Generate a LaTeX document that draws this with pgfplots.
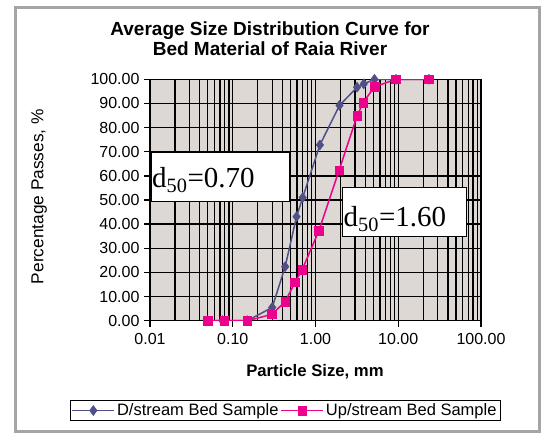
\documentclass[border=0pt]{standalone}
\usepackage{fontspec}
\setmainfont{Liberation Sans}
\newfontfamily\timesf{Liberation Serif}
\usepackage{pgfplots}
\pgfplotsset{compat=1.18}
\definecolor{dcol}{RGB}{80,80,135}
\definecolor{ucol}{RGB}{236,0,140}
\definecolor{bgc}{RGB}{221,216,212}
\definecolor{framec}{RGB}{165,165,165}

\begin{document}
\begin{tikzpicture}[x=1pt,y=1pt]
\useasboundingbox (0,0) rectangle (543,434);
\fill[white] (0,0) rectangle (543,434);
\draw[framec, line width=3pt] (15.5,2.5) rectangle (539.5,426.5);
\node[align=center, font=\fontsize{19}{20}\selectfont\bfseries] at (270,395.25) {Average Size Distribution Curve for\\Bed Material of Raia River};

\begin{axis}[
  at={(150pt,113.3pt)}, anchor=south west, scale only axis,
  width=331pt, height=241.4pt,
  xmode=log, xmin=0.01, xmax=100, ymin=0, ymax=100,
  axis background/.style={fill=bgc},
  xtick={0.01,0.1,1,10,100},
  xticklabels={0.01,0.10,1.00,10.00,100.00},
  minor xtick={0.02,0.03,0.04,0.05,0.06,0.07,0.08,0.09,0.2,0.3,0.4,0.5,0.6,0.7,0.8,0.9,2,3,4,5,6,7,8,9,20,30,40,50,60,70,80,90},
  ytick={0,10,20,30,40,50,60,70,80,90,100},
  yticklabels={0.00,10.00,20.00,30.00,40.00,50.00,60.00,70.00,80.00,90.00,100.00},
  grid=both,
  major grid style={black, line width=1.3pt},
  minor grid style={black, line width=1.3pt},
  axis line style={black, line width=1.3pt},
  tick style={black, line width=1.3pt},
  major tick length=6pt, minor tick length=0pt,
  tick align=outside, xtick pos=bottom, ytick pos=left,
  tick label style={font=\fontsize{16}{18}\selectfont},
  xticklabel style={yshift=-3pt},
  yticklabel style={xshift=-1pt},
  xlabel={Particle Size, mm},
  xlabel style={at={(axis description cs:0.4985,-0.2125)}, anchor=center, font=\fontsize{16.7}{18}\selectfont\bfseries},
  ylabel={Percentage Passes, \%},
  ylabel style={at={(axis description cs:-0.335,0.514)}, anchor=center, font=\fontsize{17.3}{19}\selectfont},
  legend style={at={(axis description cs:0.408,-0.372)}, anchor=center, legend columns=2,
    draw=black, line width=1pt, fill=white, font=\fontsize{16.5}{18}\selectfont, inner sep=1.5pt,
    /tikz/every even column/.append style={column sep=0pt}},
  legend image code/.code={\draw[mark repeat=2,mark phase=2] plot coordinates {(0pt,0pt)(21pt,0pt)(42pt,0pt)};},
]
\addplot[dcol, line width=1.5pt, mark=diamond*, mark size=5pt, mark options={fill=dcol, draw=dcol, line width=0.5pt}]
  coordinates {(0.05,0)(0.075,0)(0.15,0)(0.30,5.5)(0.43,22.4)(0.59,43.1)(0.70,51.0)(1.13,72.8)(1.95,89.2)(3.18,96.7)(3.83,98.1)(5.16,100)(9.4,100)(23.5,100)};
\addlegendentry{D/stream Bed Sample}
\addplot[ucol, line width=1.5pt, mark=square*, mark size=4.3pt, mark options={fill=ucol, draw=ucol, line width=0.5pt}]
  coordinates {(0.05,0)(0.079,0)(0.15,0)(0.296,2.6)(0.43,7.9)(0.565,15.9)(0.69,21.1)(1.10,37.3)(1.93,62.4)(3.18,84.8)(3.76,90.3)(5.16,96.9)(9.4,100)(23.5,100)};
\addlegendentry{Up/stream Bed Sample}
\end{axis}

\node[draw=black, line width=1.3pt, fill=white, minimum width=138pt, minimum height=49.3pt, anchor=north west, inner sep=0pt] at (151,282.3) {};
\node[anchor=base west, inner sep=0pt, font=\timesf\fontsize{29}{30}\selectfont] at (152,246) {d\textsubscript{50}=0.70};
\node[draw=black, line width=1.3pt, fill=white, minimum width=124pt, minimum height=49pt, anchor=north west, inner sep=0pt] at (342,247) {};
\node[anchor=base west, inner sep=0pt, font=\timesf\fontsize{29}{30}\selectfont] at (343.5,207.3) {d\textsubscript{50}=1.60};
\end{tikzpicture}
\end{document}
